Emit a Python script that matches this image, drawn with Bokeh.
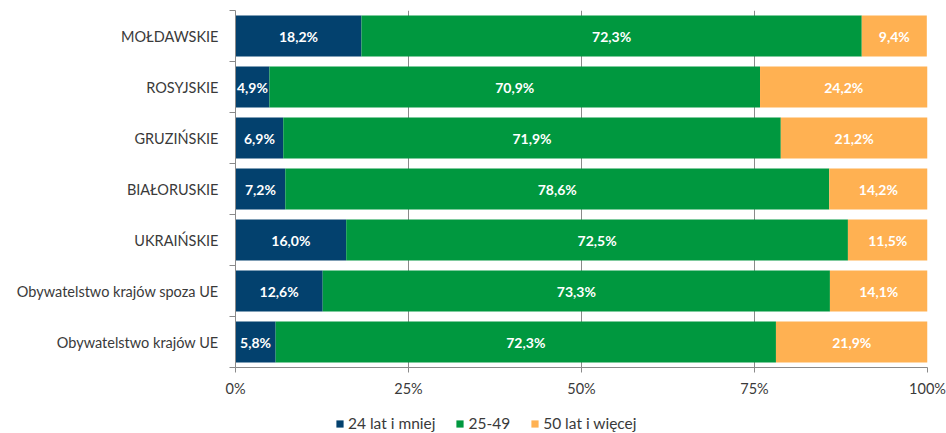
from bokeh.plotting import figure
from bokeh.layouts import column
from bokeh.models import ColumnDataSource, FixedTicker, Range1d, Legend, LegendItem
from bokeh.core.properties import value
from bokeh.embed import file_html
from bokeh.resources import INLINE

# ---- data (bottom to top) ----
categories = ["Obywatelstwo krajów UE", "Obywatelstwo krajów spoza UE", "UKRAIŃSKIE",
              "BIAŁORUSKIE", "GRUZIŃSKIE", "ROSYJSKIE", "MOŁDAWSKIE"]
young = [5.8, 12.6, 16.0, 7.2, 6.9, 4.9, 18.2]      # 24 lat i mniej
middle = [72.3, 73.3, 72.5, 78.6, 71.9, 70.9, 72.3]  # 25-49
old = [21.9, 14.1, 11.5, 14.2, 21.2, 24.2, 9.4]      # 50 lat i więcej
series_names = ["24 lat i mniej", "25-49", "50 lat i więcej"]
series_colors = ["#03416E", "#00983F", "#FFB152"]
x_ticks = [0, 0.25, 0.5, 0.75, 1.0]
x_tick_labels = ["0%", "25%", "50%", "75%", "100%"]

FONT = "Lato"
TXT = "#3a3a3a"
AXC = "#8a8a8a"

p = figure(width=946, height=405, output_backend="svg", toolbar_location=None,
           x_range=Range1d(0, 1), y_range=Range1d(0, len(categories)),
           min_border_left=235, min_border_right=19, min_border_top=10, min_border_bottom=38)
p.outline_line_color = None
p.background_fill_color = "white"
p.border_fill_color = "white"

ys = [i + 0.5 for i in range(len(categories))]
starts = [0.0] * len(categories)
sources = []
for name, vals, col in zip(series_names, [young, middle, old], series_colors):
    left = [s for s in starts]
    right = [s + v / 100.0 for s, v in zip(starts, vals)]
    mids = [(l + r) / 2 for l, r in zip(left, right)]
    labels = [f"{v:.1f}".replace(".", ",") + "%" for v in vals]
    src = ColumnDataSource(dict(y=ys, left=left, right=right, mid=mids, lab=labels))
    sources.append(src)
    p.hbar(y="y", left="left", right="right", height=0.8, source=src,
           fill_color=col, line_color=None)
    p.text(x="mid", y="y", text="lab", source=src, text_align="center", text_baseline="middle",
           text_color="white", text_font=value(FONT), text_font_style="bold",
           text_font_size="14px")
    starts = right

# x axis
xa = p.xaxis[0]
xa.ticker = FixedTicker(ticks=x_ticks)
xa.major_label_overrides = {t: l for t, l in zip(x_ticks, x_tick_labels)}
xa.axis_line_color = AXC
xa.major_tick_line_color = AXC
xa.major_tick_out = 5
xa.major_tick_in = 0
xa.minor_tick_line_color = None
xa.major_label_text_font = FONT
xa.major_label_text_font_size = "14.5px"
xa.major_label_text_color = TXT
xa.major_label_standoff = 7

# y axis
ya = p.yaxis[0]
ya.ticker = FixedTicker(ticks=ys, minor_ticks=list(range(len(categories) + 1)))
ya.major_label_overrides = {t: c for t, c in zip(ys, categories)}
ya.axis_line_color = AXC
ya.major_tick_line_color = None
ya.major_tick_out = 0
ya.major_tick_in = 0
ya.minor_tick_line_color = AXC
ya.minor_tick_out = 6
ya.minor_tick_in = 0
ya.major_label_text_font = FONT
ya.major_label_text_font_size = "14.5px"
ya.major_label_text_color = TXT
ya.major_label_standoff = 11

p.xgrid.ticker = FixedTicker(ticks=x_ticks)
p.xgrid.grid_line_color = AXC
p.ygrid.grid_line_color = None

# legend strip below the chart (its frame is aligned with the chart's frame)
lg = figure(width=946, height=28, output_backend="svg", toolbar_location=None,
            x_range=Range1d(10, 11), y_range=Range1d(10, 11),
            x_axis_location=None, y_axis_location=None,
            min_border_left=235, min_border_right=19, min_border_top=0, min_border_bottom=0)
lg.grid.visible = False
lg.outline_line_color = None
items = []
for name, col, src in zip(series_names, series_colors, sources):
    r = lg.hbar(y="y", left="left", right="right", height=0.8, source=src,
                fill_color=col, line_color=None)
    items.append(LegendItem(label=name, renderers=[r]))
legend = Legend(items=items, orientation="horizontal", location=(100, 1),
                glyph_width=9, glyph_height=9, label_standoff=4, spacing=20,
                padding=0, margin=0, border_line_color=None, background_fill_alpha=0,
                label_text_font=FONT, label_text_font_size="15.5px", label_text_color=TXT,
                label_height=14)
lg.add_layout(legend, "center")

open("out.html", "w").write(file_html(column(p, lg, spacing=0), INLINE))
